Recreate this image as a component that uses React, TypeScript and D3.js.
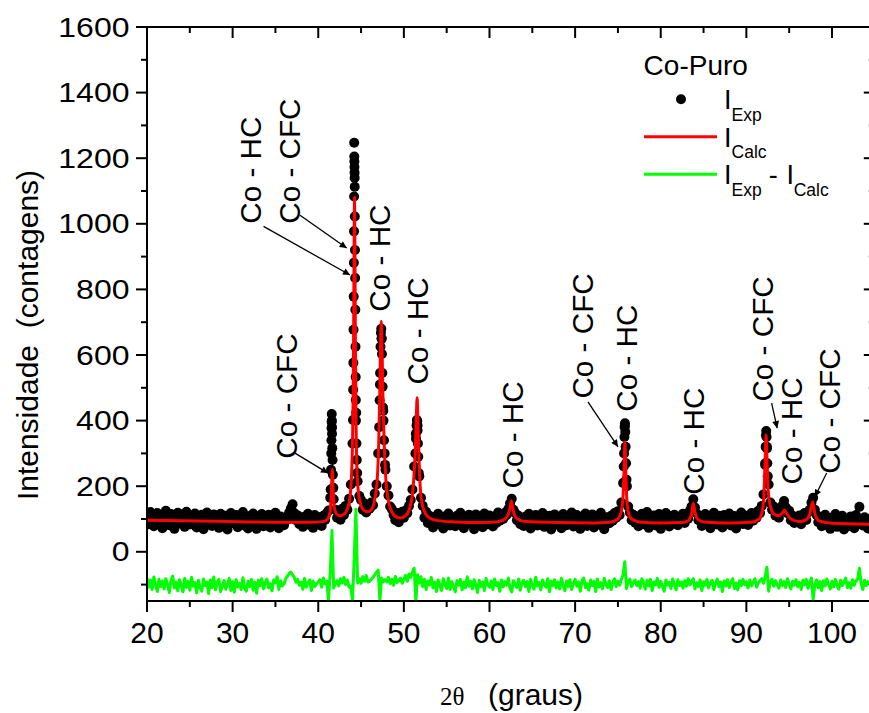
import React from 'react';
import * as d3 from 'd3';

const W = 869;
const H = 713;
const plotLeft = 147;
const plotRight = 874.8;
const plotTop = 27;
const plotBottom = 601;

// 2θ grid of the experimental / difference scans
const twoThetaStart = 20;
const twoThetaStep = 0.2;

// Experimental intensity (I_Exp) on the 0.2° grid, 20.0° → 104.4°
const expIntensity: number[] = [
  112, 84, 121, 95, 78, 104, 118, 88, 99, 72,
  108, 125, 90, 81, 115, 97, 70, 103, 119, 86,
  94, 111, 76, 122, 100, 83, 109, 91, 117, 74,
  102, 88, 113, 69, 96, 120, 85, 107, 79, 114,
  90, 104, 73, 116, 95, 82, 110, 68, 101, 118,
  87, 99, 112, 75, 106, 93, 121, 80, 97, 71,
  109, 84, 117, 96, 70, 103, 89, 115, 78, 100,
  92, 113, 74, 105, 86, 119, 97, 72, 108, 94,
  81, 104, 98, 120, 132, 145, 118, 96, 111, 84,
  99, 76, 107, 90, 116, 82, 101, 73, 112, 95,
  88, 105, 79, 110, 97, 118, 126, 165, 380, 160,
  128, 104, 125, 98, 131, 112, 140, 128, 162, 205,
  330, 1247, 400, 215, 170, 158, 128, 147, 120, 138,
  131, 150, 142, 178, 205, 300, 510, 650, 430, 265,
  200, 172, 138, 130, 112, 96, 118, 90, 108, 122,
  104, 126, 118, 140, 158, 190, 260, 360, 385, 230,
  165, 140, 104, 122, 88, 110, 96, 74, 105, 91,
  116, 83, 99, 71, 108, 92, 117, 80, 103, 95,
  78, 110, 88, 119, 97, 72, 106, 85, 113, 93,
  101, 69, 114, 90, 82, 108, 75, 117, 96, 84,
  111, 92, 77, 104, 88, 120, 95, 108, 100, 119,
  112, 130, 148, 162, 128, 118, 96, 110, 84, 102,
  79, 107, 94, 116, 71, 99, 87, 112, 80, 105,
  93, 118, 76, 101, 86, 110, 68, 97, 114, 83,
  106, 90, 72, 115, 98, 81, 109, 93, 120, 77,
  96, 112, 85, 70, 104, 91, 117, 79, 100, 88,
  114, 74, 97, 108, 83, 119, 92, 69, 105, 99,
  87, 110, 95, 118, 104, 124, 112, 150, 210, 385,
  220, 138, 120, 96, 113, 89, 107, 78, 102, 116,
  84, 99, 121, 73, 106, 92, 111, 80, 97, 115,
  70, 103, 89, 118, 95, 77, 109, 86, 113, 99,
  81, 107, 94, 116, 88, 110, 101, 125, 138, 160,
  135, 117, 96, 108, 79, 102, 115, 87, 98, 72,
  105, 119, 91, 83, 110, 96, 74, 112, 88, 101,
  117, 80, 98, 109, 71, 104, 92, 120, 85, 97,
  110, 82, 101, 118, 95, 112, 104, 125, 118, 140,
  175, 265, 320, 205, 150, 128, 138, 110, 122, 104,
  128, 140, 155, 136, 118, 125, 96, 110, 88, 103,
  92, 111, 84, 106, 118, 97, 120, 128, 150, 165,
  128, 112, 90, 105, 78, 99, 113, 82, 94, 70,
  104, 91, 115, 76, 98, 86, 110, 68, 101, 93,
  79, 108, 95, 72, 112, 84, 137, 99, 80, 105,
  88, 71, 100,
];

// Extra finely-stepped experimental points across the sharp reflections
const expPeakPoints: [number, number][] = [
  [41.45, 190], [41.49, 250], [41.52, 300], [41.54, 340], [41.555, 377], [41.565, 396],
  [41.575, 420], [41.59, 400], [41.61, 360], [41.64, 316], [41.67, 280], [41.71, 235], [41.76, 195],
  [44.06, 402], [44.08, 494], [44.1, 576], [44.12, 677], [44.14, 778], [44.16, 881], [44.18, 977],
  [44.19, 1083], [44.21, 1205], [44.22, 1190], [44.23, 1173], [44.24, 1156], [44.25, 1140],
  [44.26, 1113], [44.27, 1022], [44.29, 920], [44.31, 835], [44.33, 738], [44.35, 625],
  [44.37, 533], [44.39, 463], [44.43, 424], [44.46, 330], [44.5, 280], [44.55, 240],
  [47.12, 380], [47.17, 462], [47.22, 545], [47.27, 625], [47.32, 668], [47.36, 680],
  [47.4, 650], [47.44, 603], [47.48, 545], [47.52, 503], [47.56, 440], [47.62, 400],
  [47.68, 340], [47.75, 300], [47.85, 250],
  [51.35, 300], [51.42, 345], [51.48, 385], [51.52, 402], [51.56, 398], [51.6, 370],
  [51.64, 330], [51.68, 290], [51.74, 240],
  [75.68, 260], [75.72, 300], [75.76, 350], [75.79, 380], [75.82, 392], [75.86, 365],
  [75.9, 320], [75.95, 270], [76.05, 200],
  [92.2, 270], [92.25, 320], [92.29, 355], [92.32, 368], [92.36, 350], [92.4, 315],
  [92.45, 270], [92.5, 230],
];

// Calculated profile (I_Calc)
const calcCurve: [number, number][] = [
  [20, 96], [24, 95], [28, 93], [32, 91], [36, 90], [39, 90], [40.5, 92],
  [41.0, 97], [41.2, 104], [41.35, 118], [41.45, 140], [41.53, 180], [41.59, 225],
  [41.64, 252], [41.69, 225], [41.76, 175], [41.86, 140], [42.0, 122], [42.3, 112],
  [42.6, 110], [43.0, 115], [43.4, 130], [43.7, 165], [43.9, 240], [44.0, 330],
  [44.08, 480], [44.14, 700], [44.19, 940], [44.24, 1080], [44.29, 900], [44.34, 620],
  [44.42, 380], [44.52, 250], [44.7, 180], [45.0, 140], [45.4, 125], [45.8, 122],
  [46.2, 128], [46.6, 160], [46.9, 225], [47.05, 320], [47.18, 470], [47.28, 640],
  [47.36, 703], [47.44, 640], [47.55, 480], [47.7, 330], [47.9, 220], [48.2, 155],
  [48.6, 122], [49.0, 108], [49.6, 103], [50.2, 110], [50.7, 135], [51.0, 175],
  [51.2, 240], [51.35, 320], [51.45, 410], [51.55, 470], [51.63, 410], [51.72, 320],
  [51.85, 225], [52.1, 150], [52.5, 118], [53.0, 103], [54.0, 95], [56, 91], [59, 89],
  [61.0, 92], [61.8, 100], [62.2, 115], [62.4, 135], [62.55, 155], [62.7, 135],
  [62.9, 113], [63.3, 100], [64, 93], [68, 89], [72, 88], [74, 90], [75.0, 100],
  [75.4, 125], [75.6, 170], [75.72, 250], [75.82, 335], [75.9, 260], [76.0, 180],
  [76.2, 122], [76.6, 100], [77.5, 91], [80, 88], [82.5, 89], [83.2, 95], [83.6, 115],
  [83.8, 148], [84.0, 120], [84.3, 100], [85, 91], [88, 88], [90.5, 90], [91.5, 100],
  [91.9, 130], [92.05, 175], [92.18, 270], [92.3, 356], [92.4, 290], [92.5, 210],
  [92.65, 160], [92.85, 135], [93.2, 115], [93.8, 110], [94.2, 118], [94.45, 127],
  [94.7, 117], [95.2, 100], [96.2, 92], [97.0, 98], [97.4, 115], [97.6, 140],
  [97.75, 152], [97.9, 130], [98.1, 108], [98.6, 93], [100, 87], [105, 84],
];

// Difference (I_Exp - I_Calc, offset) on the 0.2° grid
const diffIntensity: number[] = [
  -80, -108, -86, -115, -77, -101, -121, -84, -106, -89,
  -113, -82, -99, -124, -88, -74, -110, -93, -119, -85,
  -102, -122, -81, -108, -90, -117, -78, -105, -94, -125,
  -87, -110, -120, -83, -103, -92, -127, -86, -109, -77,
  -116, -94, -84, -121, -104, -88, -114, -97, -81, -118,
  -91, -123, -85, -107, -96, -115, -79, -111, -120, -90,
  -106, -84, -117, -93, -126, -87, -103, -82, -113, -95,
  -83, -110, -97, -119, -86, -95, -76, -115, -88, -104,
  -98, -82, -74, -66, -62, -70, -78, -93, -84, -102,
  -92, -114, -81, -108, -95, -86, -118, -90, -106, -97,
  -92, -85, -108, -80, -98, -90, -150, -60, 65, -110,
  -96, -88, -104, -82, -95, -78, -100, -86, -108, -105,
  -150, -20, 130, -95, -82, -96, -76, -90, -72, -92,
  -90, -84, -78, -70, -62, -56, -148, -80, -92, -85,
  -92, -78, -97, -84, -102, -75, -94, -88, -80, -96,
  -84, -72, -90, -68, -78, -62, -50, -150, -70, -95,
  -76, -106, -84, -115, -89, -101, -78, -110, -93, -121,
  -86, -103, -118, -82, -99, -112, -80, -115, -91, -107,
  -122, -88, -102, -84, -116, -93, -110, -76, -105, -90,
  -113, -85, -100, -124, -87, -106, -92, -118, -81, -101,
  -108, -89, -115, -83, -103, -94, -120, -86, -107, -91,
  -102, -80, -112, -122, -88, -100, -109, -83, -117, -94,
  -87, -106, -91, -121, -84, -101, -114, -78, -104, -93,
  -116, -86, -99, -108, -82, -122, -90, -103, -85, -110,
  -93, -113, -81, -102, -119, -89, -106, -85, -115, -96,
  -84, -105, -92, -120, -88, -80, -109, -97, -117, -86,
  -103, -90, -121, -83, -107, -94, -113, -81, -101, -109,
  -88, -115, -94, -82, -106, -90, -102, -84, -70, -30,
  -112, -90, -83, -106, -94, -86, -103, -91, -111, -82,
  -95, -114, -87, -104, -84, -118, -92, -101, -81, -108,
  -90, -106, -120, -86, -102, -93, -112, -83, -100, -116,
  -85, -103, -92, -111, -88, -105, -82, -101, -90, -82,
  -113, -94, -106, -86, -118, -91, -102, -84, -110, -95,
  -87, -115, -96, -83, -106, -92, -121, -89, -104, -85,
  -109, -93, -82, -112, -95, -116, -88, -103, -84, -101,
  -91, -110, -86, -104, -93, -82, -108, -95, -88, -82,
  -96, -75, -47, -120, -92, -84, -105, -88, -101, -111,
  -86, -103, -91, -109, -82, -99, -113, -90, -102, -85,
  -106, -93, -115, -87, -101, -84, -111, -92, -80, -145,
  -100, -86, -110, -91, -118, -88, -104, -83, -99, -113,
  -90, -107, -84, -101, -114, -87, -103, -92, -80, -109,
  -94, -111, -85, -102, -89, -83, -50, -96, -115, -87,
  -103, -91, -99,
];

const xMajorTicks = [20, 30, 40, 50, 60, 70, 80, 90, 100];
const xMinorTicks = [25, 35, 45, 55, 65, 75, 85, 95, 105];
const yMajorTicks = [0, 200, 400, 600, 800, 1000, 1200, 1400, 1600];
const yMinorTicks = [-100, 100, 300, 500, 700, 900, 1100, 1300, 1500];

// Phase labels: anchored at (2θ, intensity) of the text start
const peakLabels = [
  { text: 'Co - HC', x: 33.26, y: 1000 },
  { text: 'Co - CFC', x: 37.87, y: 1000 },
  { text: 'Co - HC', x: 48.38, y: 732 },
  { text: 'Co - HC', x: 52.82, y: 510 },
  { text: 'Co - CFC', x: 37.52, y: 284 },
  { text: 'Co - HC', x: 63.91, y: 193 },
  { text: 'Co - CFC', x: 72.09, y: 467 },
  { text: 'Co - HC', x: 77.23, y: 427 },
  { text: 'Co - HC', x: 85.05, y: 174 },
  { text: 'Co - CFC', x: 93.11, y: 458 },
  { text: 'Co - HC', x: 96.46, y: 205 },
  { text: 'Co - CFC', x: 100.93, y: 238 },
];

const peakArrows = [
  { x1: 33.61, y1: 992, x2: 43.71, y2: 844 },
  { x1: 37.87, y1: 1026, x2: 43.32, y2: 926 },
  { x1: 37.28, y1: 301, x2: 41.14, y2: 240 },
  { x1: 71.5, y1: 457, x2: 75.01, y2: 320 },
  { x1: 92.95, y1: 453, x2: 93.6, y2: 377 },
  { x1: 99.38, y1: 240, x2: 98.0, y2: 168 },
];

const SANS = '"Liberation Sans", Arial, Helvetica, sans-serif';
const SERIF = '"Liberation Serif", "Times New Roman", serif';

export default function App() {
  const x = d3.scaleLinear().domain([20, 105]).range([plotLeft, plotRight]);
  const y = d3.scaleLinear().domain([-150, 1600]).range([plotBottom, plotTop]);

  const gridX = (i: number) => twoThetaStart + i * twoThetaStep;

  const expPoints: [number, number][] = [
    ...expIntensity.map((v, i) => [gridX(i), v] as [number, number]),
    ...expPeakPoints,
  ];

  const calcPath = d3
    .line<[number, number]>()
    .x((d) => x(d[0]))
    .y((d) => y(d[1]))
    .curve(d3.curveMonotoneX)(calcCurve) as string;

  const diffPath = d3
    .line<number>()
    .x((_, i) => x(gridX(i)))
    .y((d) => y(d))(diffIntensity) as string;

  return (
    <svg
      width={W}
      height={H}
      style={{ position: 'absolute', left: 0, top: 0, background: '#fff' }}
    >
      <defs>
        <marker
          id="ah"
          viewBox="0 0 10 10"
          refX="10"
          refY="5"
          markerWidth="9"
          markerHeight="7"
          markerUnits="userSpaceOnUse"
          orient="auto"
        >
          <path d="M0,0 L10,5 L0,10 z" fill="#000" />
        </marker>
        <clipPath id="plot">
          <rect x={plotLeft} y={plotTop} width={plotRight - plotLeft} height={plotBottom - plotTop} />
        </clipPath>
      </defs>

      {/* data */}
      <g clipPath="url(#plot)">
        {expPoints.map((d, i) => (
          <circle key={i} cx={x(d[0])} cy={y(d[1])} r={5} fill="#000" />
        ))}
        <path d={calcPath} fill="none" stroke="#ff0000" strokeWidth={3} strokeLinejoin="round" />
        <path d={diffPath} fill="none" stroke="#00ff00" strokeWidth={3} strokeLinejoin="round" />
      </g>

      {/* axes frame */}
      <g stroke="#000" strokeWidth={2} fill="none">
        <line x1={plotLeft} x2={plotRight} y1={plotTop} y2={plotTop} />
        <line x1={plotLeft} x2={plotRight} y1={plotBottom} y2={plotBottom} />
        <line x1={plotLeft} x2={plotLeft} y1={plotTop} y2={plotBottom} />
        <line x1={plotRight} x2={plotRight} y1={plotTop} y2={plotBottom} />
        {xMajorTicks.map((t) => (
          <g key={'xm' + t}>
            <line x1={x(t)} x2={x(t)} y1={plotBottom} y2={plotBottom + 11} />
            <line x1={x(t)} x2={x(t)} y1={plotTop} y2={plotTop + 11} />
          </g>
        ))}
        {xMinorTicks.map((t) => (
          <g key={'xn' + t}>
            <line x1={x(t)} x2={x(t)} y1={plotBottom} y2={plotBottom + 6} />
            <line x1={x(t)} x2={x(t)} y1={plotTop} y2={plotTop + 6} />
          </g>
        ))}
        {yMajorTicks.map((t) => (
          <g key={'ym' + t}>
            <line x1={plotLeft - 11} x2={plotLeft} y1={y(t)} y2={y(t)} />
            <line x1={plotRight - 11} x2={plotRight} y1={y(t)} y2={y(t)} />
          </g>
        ))}
        {yMinorTicks.map((t) => (
          <g key={'yn' + t}>
            <line x1={plotLeft - 6} x2={plotLeft} y1={y(t)} y2={y(t)} />
            <line x1={plotRight - 6} x2={plotRight} y1={y(t)} y2={y(t)} />
          </g>
        ))}
      </g>

      {/* tick labels */}
      <g fontFamily={SANS} fill="#000">
        {xMajorTicks.map((t) => (
          <text key={'xl' + t} x={x(t)} y={643} fontSize={30} textAnchor="middle">
            {t}
          </text>
        ))}
        {yMajorTicks.map((t) => (
          <text
            key={'yl' + t}
            transform={`translate(129.5, ${y(t) + 9.6}) scale(1, 0.84)`}
            fontSize={32}
            textAnchor="end"
          >
            {t}
          </text>
        ))}
      </g>

      {/* axis titles */}
      <text
        transform="translate(38, 335) rotate(-90)"
        fontFamily={SANS}
        fontSize={30}
        textAnchor="middle"
        style={{ whiteSpace: 'pre' }}
      >
        {'Intensidade  (contagens)'}
      </text>
      <text x={440} y={705} fontFamily={SERIF} fontSize={25}>
        2θ
      </text>
      <text x={488} y={705} fontFamily={SANS} fontSize={30}>
        (graus)
      </text>

      {/* peak labels */}
      <g fontFamily={SANS} fontSize={29.7} fill="#000">
        {peakLabels.map((l, i) => (
          <text key={'pl' + i} transform={`translate(${x(l.x)}, ${y(l.y)}) rotate(-90)`}>
            {l.text}
          </text>
        ))}
      </g>
      <g stroke="#000" strokeWidth={1.3}>
        {peakArrows.map((a, i) => (
          <line
            key={'pa' + i}
            x1={x(a.x1)}
            y1={y(a.y1)}
            x2={x(a.x2)}
            y2={y(a.y2)}
            markerEnd="url(#ah)"
          />
        ))}
      </g>

      {/* legend */}
      <g fontFamily={SANS} fill="#000">
        <text x={643.6} y={75} fontSize={28}>
          Co-Puro
        </text>
        <circle cx={681} cy={99.3} r={5} fill="#000" />
        <text x={724} y={109.3} fontSize={27}>I</text>
        <text x={731.6} y={120.5} fontSize={17.5}>Exp</text>

        <line x1={644} x2={717} y1={136.7} y2={136.7} stroke="#ff0000" strokeWidth={3} />
        <text x={724} y={146.7} fontSize={27}>I</text>
        <text x={731.6} y={158} fontSize={17.5}>Calc</text>

        <line x1={644} x2={717} y1={174.3} y2={174.3} stroke="#00ff00" strokeWidth={3} />
        <text x={724} y={184} fontSize={27}>I</text>
        <text x={731.6} y={195.7} fontSize={17.5}>Exp</text>
        <text x={768.8} y={184} fontSize={27}>-</text>
        <text x={786.5} y={184} fontSize={27}>I</text>
        <text x={793.7} y={195.7} fontSize={17.5}>Calc</text>
      </g>
    </svg>
  );
}
